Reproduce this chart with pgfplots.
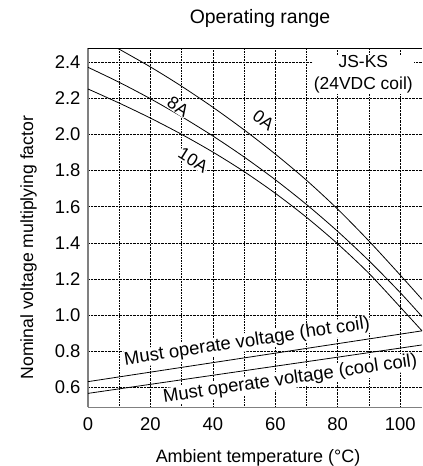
\documentclass[border=0pt]{standalone}
\usepackage{fontspec}
\setmainfont{Liberation Sans}
\usepackage{pgfplots}
\pgfplotsset{compat=1.18}
\definecolor{axgray}{RGB}{128,128,128}
\begin{document}
\begin{tikzpicture}
\begin{axis}[
  at={(0,0)}, anchor=south west,
  scale only axis, width=334bp, height=358.8bp,
  xmin=0, xmax=107, ymin=0.49, ymax=2.475,
  axis lines*=left,
  axis line style={axgray, line width=1.6bp},
  xtick={0,20,...,100}, minor xtick={10,30,...,90},
  ytick={0.6,0.8,...,2.41},
  grid=both,
  grid style={densely dotted, black, line width=0.6bp},
  minor grid style={densely dotted, black, line width=0.6bp},
  major tick length=0pt, minor tick length=0pt,
  /pgf/number format/assume math mode=true,
  yticklabel style={/pgf/number format/fixed, /pgf/number format/fixed zerofill, /pgf/number format/precision=1},
  every tick label/.append style={font=\fontsize{18.5}{20}\selectfont},
  xticklabel style={yshift=-7bp},
  yticklabel style={xshift=-4bp},
  title={Operating range},
  title style={at={(0.515,1.068)}, anchor=center, font=\fontsize{19.5}{22}\selectfont},
  xlabel={Ambient temperature (°C)},
  xlabel style={at={(0.509,-0.142)}, anchor=center, font=\fontsize{18}{20}\selectfont},
  ylabel={Nominal voltage multiplying factor},
  ylabel style={at={(-0.178,0.445)}, anchor=center, font=\fontsize{17.7}{20}\selectfont},
  clip=true,
]
% 0A
\addplot[black, line width=0.8bp, smooth] coordinates {
 (9.6,2.475) (20,2.373) (30,2.266) (40,2.150) (50,2.025) (60,1.891) (70,1.746) (80,1.586) (90,1.410) (100,1.222) (107,1.087)
};
% 8A
\addplot[black, line width=0.8bp, smooth] coordinates {
 (0,2.371) (10,2.288) (20,2.197) (30,2.098) (40,1.991) (50,1.875) (60,1.749) (70,1.612) (80,1.463) (90,1.301) (100,1.125) (107,0.992)
};
% 10A
\addplot[black, line width=0.8bp, smooth] coordinates {
 (0,2.251) (10,2.173) (20,2.090) (30,2.000) (40,1.902) (50,1.794) (60,1.674) (70,1.541) (80,1.394) (90,1.231) (100,1.045) (107,0.913)
};
% hot coil
\addplot[black, line width=0.8bp] coordinates {(0,0.632) (107,0.913)};
% cool coil
\addplot[black, line width=0.8bp] coordinates {(0,0.567) (107,0.835)};
\node[font=\fontsize{17.5}{20}\selectfont, fill=white, inner sep=0.5pt, rotate=-33] at (axis cs:28.9,2.153) {8A};
\node[font=\fontsize{17.5}{20}\selectfont, fill=white, inner sep=0.5pt, rotate=-37] at (axis cs:56.2,2.079) {0A};
\node[font=\fontsize{17.5}{20}\selectfont, fill=white, inner sep=0.5pt, rotate=-32] at (axis cs:33.7,1.858) {10A};
\node[font=\fontsize{17.5}{21.5}\selectfont, fill=white, inner sep=1pt, align=center] at (axis cs:88.2,2.332) {JS-KS\\(24VDC coil)};
\node[font=\fontsize{18.5}{20}\selectfont, fill=white, inner sep=0.5pt, rotate=8.5, anchor=base] at (axis cs:51.2,0.825) {Must operate voltage (hot coil)};
\node[font=\fontsize{18.5}{20}\selectfont, fill=white, inner sep=0.5pt, rotate=8.2, anchor=base] at (axis cs:65,0.619) {Must operate voltage (cool coil)};
\draw[black, line width=0.6bp] (rel axis cs:0,1) -- (rel axis cs:1,1);
\end{axis}
\pgfresetboundingbox
\path[use as bounding box] (-88bp,-58.7bp) rectangle (335bp,407.3bp);
\end{tikzpicture}
\end{document}
